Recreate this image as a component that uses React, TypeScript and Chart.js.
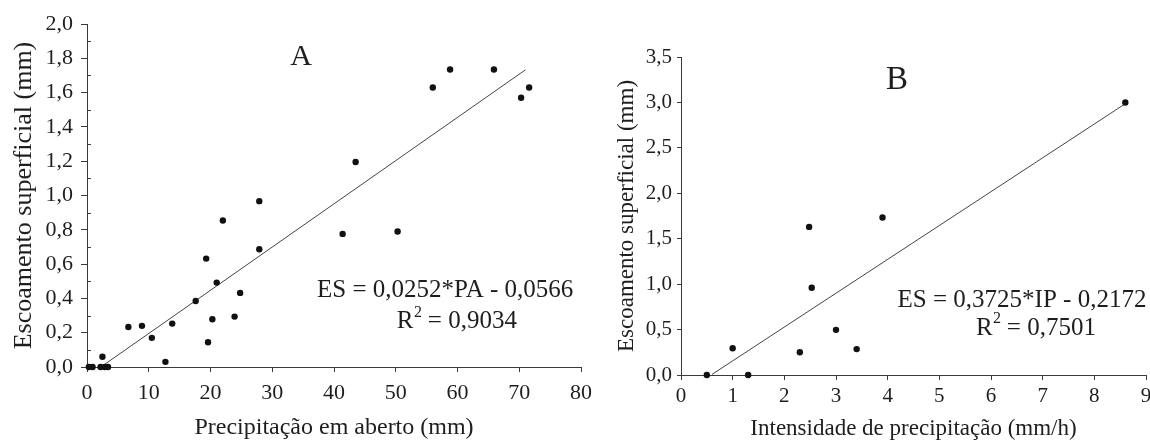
import React, { useEffect, useRef } from "react";
import { Chart, registerables } from "chart.js";

Chart.register(...registerables);

const FONT = "'Liberation Serif', 'Times New Roman', serif";
const TEXT = "#1e1e1e";
const AXIS = "#3a3a3a";

// ---------- Panel A data ----------
const precipA = [0.3, 0.9, 2.2, 2.5, 2.9, 3.4, 6.7, 8.9, 10.5, 12.7, 13.8, 17.6, 19.3, 19.6, 20.3, 21.0, 22.0, 23.9, 24.8, 27.9, 27.9, 41.4, 43.5, 50.3, 56.0, 58.8, 65.9, 70.3, 71.6];
const runoffA = [0, 0, 0, 0.06, 0, 0, 0.233, 0.24, 0.17, 0.03, 0.253, 0.385, 0.632, 0.144, 0.278, 0.492, 0.854, 0.294, 0.432, 0.967, 0.687, 0.776, 1.195, 0.79, 1.63, 1.735, 1.735, 1.57, 1.63];
const trendRangeA = [2.5, 71];
const slopeA = 0.0252;
const interceptA = -0.0566;
const xTicksA = ["0", "10", "20", "30", "40", "50", "60", "70", "80"];
const yTicksA = ["0,0", "0,2", "0,4", "0,6", "0,8", "1,0", "1,2", "1,4", "1,6", "1,8", "2,0"];

// ---------- Panel B data ----------
const intensityB = [0.5, 1.0, 1.3, 2.3, 2.48, 2.53, 3.0, 3.4, 3.9, 8.6];
const runoffB = [0, 0.295, 0, 0.25, 1.63, 0.96, 0.497, 0.285, 1.734, 3.0];
const trendRangeB = [0.6, 8.6];
const slopeB = 0.3725;
const interceptB = -0.2172;
const xTicksB = ["0", "1", "2", "3", "4", "5", "6", "7", "8", "9"];
const yTicksB = ["0,0", "0,5", "1,0", "1,5", "2,0", "2,5", "3,0", "3,5"];

type Spec = {
  xs: number[];
  ys: number[];
  range: number[];
  slope: number;
  intercept: number;
  xMax: number;
  xStep: number;
  yMax: number;
  yStep: number;
  xLabels: string[];
  yLabels: string[];
  xTitle: string;
  yTitle: string;
  letter: string;
  eq: string;
  r2: string;
  letterPos: number[];
  eqPos: number[];
  r2Pos: number[];
  letterSize: number;
  eqSize: number;
  tickSize: number;
  xTitleSize: number;
  yTitleSize: number;
  padding: { left: number; right: number; top: number; bottom: number };
  yWidth: number;
  xHeight: number;
  yTickLen: number;
  yTickPad: number;
  xTickLen: number;
  xTickPad: number;
  yTitlePad: number;
  minorTicks: boolean;
};

const specA: Spec = {
  xs: precipA,
  ys: runoffA,
  range: trendRangeA,
  slope: slopeA,
  intercept: interceptA,
  xMax: 80,
  xStep: 10,
  yMax: 2,
  yStep: 0.2,
  xLabels: xTicksA,
  yLabels: yTicksA,
  xTitle: "Precipitação em aberto (mm)",
  yTitle: "Escoamento superficial (mm)",
  letter: "A",
  eq: "ES = 0,0252*PA - 0,0566",
  r2: "0,9034",
  letterPos: [34.65, 1.807],
  eqPos: [58.0, 0.449],
  r2Pos: [59.9, 0.264],
  letterSize: 30,
  eqSize: 25,
  tickSize: 22,
  xTitleSize: 24,
  yTitleSize: 26,
  padding: { left: 0, right: 569, top: 24, bottom: 0 },
  yWidth: 87,
  xHeight: 73,
  yTickLen: 6,
  yTickPad: 8,
  xTickLen: 5,
  xTickPad: 8,
  yTitlePad: 11,
  minorTicks: true,
};

const specB: Spec = {
  xs: intensityB,
  ys: runoffB,
  range: trendRangeB,
  slope: slopeB,
  intercept: interceptB,
  xMax: 9,
  xStep: 1,
  yMax: 3.5,
  yStep: 0.5,
  xLabels: xTicksB,
  yLabels: yTicksB,
  xTitle: "Intensidade de precipitação (mm/h)",
  yTitle: "Escoamento superficial (mm)",
  letter: "B",
  eq: "ES = 0,3725*IP - 0,2172",
  r2: "0,7501",
  letterPos: [4.18, 3.247],
  eqPos: [6.6, 0.825],
  r2Pos: [6.87, 0.517],
  letterSize: 33,
  eqSize: 25,
  tickSize: 21,
  xTitleSize: 23,
  yTitleSize: 23,
  padding: { left: 611, right: 4, top: 57, bottom: 0 },
  yWidth: 70,
  xHeight: 65,
  yTickLen: 4,
  yTickPad: 5,
  xTickLen: 5,
  xTickPad: 4,
  yTitlePad: 4,
  minorTicks: false,
};

function makeTextPlugin(spec: Spec) {
  return {
    id: "panelText" + spec.letter,
    afterDraw(chart: any) {
      const ctx = chart.ctx as CanvasRenderingContext2D;
      const sx = chart.scales.x;
      const sy = chart.scales.y;
      ctx.save();
      ctx.fillStyle = TEXT;
      ctx.textBaseline = "middle";
      ctx.textAlign = "center";
      ctx.font = `${spec.letterSize}px ${FONT}`;
      ctx.fillText(spec.letter, sx.getPixelForValue(spec.letterPos[0]), sy.getPixelForValue(spec.letterPos[1]));
      const eqFont = `${spec.eqSize}px ${FONT}`;
      const supSize = Math.round(spec.eqSize * 0.62);
      const supFont = `${supSize}px ${FONT}`;
      ctx.font = eqFont;
      ctx.fillText(spec.eq, sx.getPixelForValue(spec.eqPos[0]), sy.getPixelForValue(spec.eqPos[1]));
      // R² line
      const rest = " = " + spec.r2;
      const wR = ctx.measureText("R").width;
      const wRest = ctx.measureText(rest).width;
      ctx.font = supFont;
      const w2 = ctx.measureText("2").width;
      const total = wR + w2 + wRest;
      const cx = sx.getPixelForValue(spec.r2Pos[0]);
      const cy = sy.getPixelForValue(spec.r2Pos[1]);
      const x0 = cx - total / 2;
      ctx.textAlign = "left";
      ctx.font = eqFont;
      ctx.fillText("R", x0, cy);
      ctx.font = supFont;
      ctx.fillText("2", x0 + wR + 0.5, cy - spec.eqSize * 0.36);
      ctx.font = eqFont;
      ctx.fillText(rest, x0 + wR + w2, cy);
      // minor ticks (inside) on the y axis
      if (spec.minorTicks) {
        const ticks = sy.ticks;
        const left = chart.chartArea.left;
        ctx.strokeStyle = AXIS;
        ctx.lineWidth = 1;
        ctx.beginPath();
        for (let i = 0; i < ticks.length - 1; i++) {
          const mid = (ticks[i].value + ticks[i + 1].value) / 2;
          const py = Math.round(sy.getPixelForValue(mid)) + 0.5;
          ctx.moveTo(left, py);
          ctx.lineTo(left + 4, py);
        }
        ctx.stroke();
      }
      ctx.restore();
    },
  };
}

function Panel({ spec }: { spec: Spec }) {
  const ref = useRef<HTMLCanvasElement | null>(null);
  useEffect(() => {
    if (!ref.current) return;
    const points = spec.xs.map((x, i) => ({ x, y: spec.ys[i] }));
    const trend = spec.range.map((x) => ({ x, y: spec.slope * x + spec.intercept }));
    const chart = new Chart(ref.current, {
      type: "scatter",
      data: {
        datasets: [
          {
            label: "points",
            data: points,
            pointRadius: 3.2,
            pointHoverRadius: 3.2,
            pointBackgroundColor: "#111",
            pointBorderWidth: 0,
            showLine: false,
            clip: false,
            order: 1,
          } as any,
          {
            label: "trend",
            data: trend,
            showLine: true,
            borderColor: "#444",
            borderWidth: 1,
            pointRadius: 0,
            fill: false,
            order: 2,
          } as any,
        ],
      },
      options: {
        animation: false,
        responsive: false,
        devicePixelRatio: 1,
        events: [],
        layout: { padding: spec.padding },
        plugins: {
          legend: { display: false },
          tooltip: { enabled: false },
          title: { display: false },
        },
        scales: {
          x: {
            type: "linear",
            min: 0,
            max: spec.xMax,
            afterFit: (s: any) => {
              s.height = spec.xHeight;
              s.paddingLeft = 0;
              s.paddingRight = 0;
            },
            ticks: {
              stepSize: spec.xStep,
              padding: spec.xTickPad,
              color: TEXT,
              font: { family: FONT, size: spec.tickSize },
              maxRotation: 0,
              autoSkip: false,
              callback: (v: any) => spec.xLabels[Math.round(Number(v) / spec.xStep)] ?? "",
            },
            grid: {
              display: true,
              drawOnChartArea: false,
              drawTicks: true,
              tickLength: spec.xTickLen,
              color: AXIS,
              lineWidth: 1,
            },
            border: { display: true, color: AXIS, width: 1 },
            title: {
              display: true,
              text: spec.xTitle,
              color: TEXT,
              font: { family: FONT, size: spec.xTitleSize, lineHeight: 1 },
              padding: { top: 0, bottom: 0 },
            },
          },
          y: {
            type: "linear",
            min: 0,
            max: spec.yMax,
            afterFit: (s: any) => {
              s.width = spec.yWidth;
            },
            ticks: {
              stepSize: spec.yStep,
              padding: spec.yTickPad,
              color: TEXT,
              font: { family: FONT, size: spec.tickSize },
              autoSkip: false,
              callback: (v: any) => spec.yLabels[Math.round(Number(v) / spec.yStep)] ?? "",
            },
            grid: {
              display: true,
              drawOnChartArea: false,
              drawTicks: true,
              tickLength: spec.yTickLen,
              color: AXIS,
              lineWidth: 1,
            },
            border: { display: true, color: AXIS, width: 1 },
            title: {
              display: true,
              text: spec.yTitle,
              color: TEXT,
              font: { family: FONT, size: spec.yTitleSize, lineHeight: 1 },
              padding: { top: spec.yTitlePad, bottom: 0 },
            },
          },
        },
      } as any,
      plugins: [makeTextPlugin(spec)],
    });
    return () => chart.destroy();
  }, [spec]);
  return (
    <canvas
      ref={ref}
      width={1150}
      height={440}
      style={{ position: "absolute", left: 0, top: 0, width: 1150, height: 440 }}
    />
  );
}

export default function App() {
  return (
    <div
      style={{
        position: "fixed",
        left: 0,
        top: 0,
        width: 1150,
        height: 440,
        background: "#fff",
        overflow: "hidden",
      }}
    >
      <Panel spec={specA} />
      <Panel spec={specB} />
    </div>
  );
}
